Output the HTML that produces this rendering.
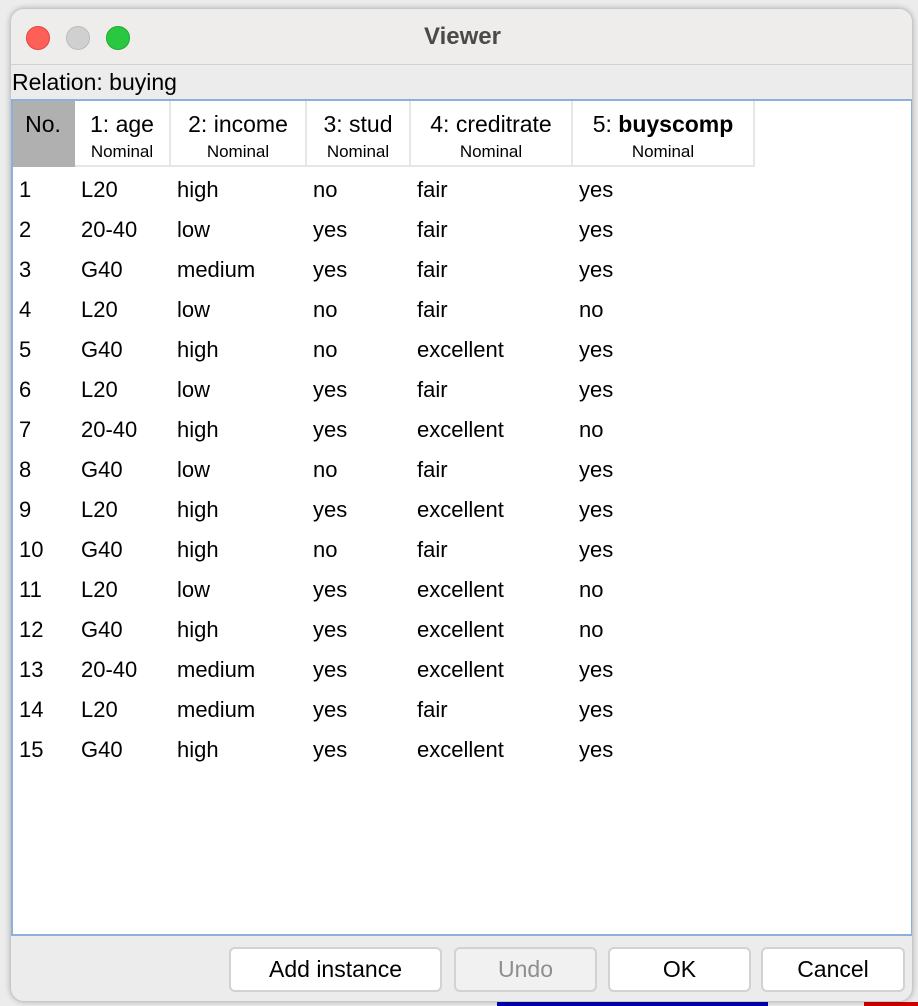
<!DOCTYPE html>
<html><head><style>
*{margin:0;padding:0;box-sizing:border-box}
body{width:918px;height:1006px;background:#ececec;position:relative;overflow:hidden;font-family:"Liberation Sans",Arial,sans-serif;color:#000}
.abs{position:absolute}
#win{left:10px;top:8px;width:903px;height:994px;background:#ececec;border-radius:14px;border:1px solid #c8c8c8;overflow:hidden;box-shadow:0 0 6px rgba(0,0,0,.25)}
.dot{position:absolute;top:17px;width:24px;height:24px;border-radius:50%}
#tb{left:0;top:0;width:903px;height:56px;background:#eeedeb;border-bottom:1px solid #d0d0d0}
#tbl{left:0;top:90px;width:902px;height:837px;background:#fff;border:2px solid #8fb0d6}
.h{position:absolute;top:0;height:66px;background:#fff;border-right:2px solid #e6e6e6;border-bottom:2px solid #e6e6e6;text-align:center}
.h .t{font-size:23px;margin-top:10px;white-space:nowrap}
.h .n{font-size:17px;margin-top:4px}
.c{position:absolute;font-size:22px;white-space:nowrap}
.btn{position:absolute;top:938px;height:45px;background:#fff;border:2px solid #d2d2d2;border-radius:6px;font-size:23px;text-align:center;line-height:41px}
</style></head><body>
<div class="abs" style="left:497px;top:1002px;width:271px;height:4px;background:#0000b0"></div>
<div class="abs" style="left:864px;top:1002px;width:54px;height:4px;background:#d00000"></div>
<div id="win" class="abs">
 <div id="tb" class="abs"></div>
 <div class="dot" style="left:15px;background:#fe5f57;border:1px solid #e0443e"></div>
 <div class="dot" style="left:55px;background:#d0d0d0;border:1px solid #bbb"></div>
 <div class="dot" style="left:95px;background:#28c840;border:1px solid #1aab29"></div>
 <div class="abs" style="left:0;width:903px;top:14px;text-align:center;font-weight:bold;font-size:24px;color:#4a4a4a">Viewer</div>
 <div class="abs" style="left:1px;top:60px;font-size:23px">Relation: buying</div>
 <div id="tbl" class="abs">
  <div class="h" style="left:0;width:62px;background:#b0b0b0;border-color:#b0b0b0"><div class="t">No.</div></div>
  <div class="h" style="left:62px;width:96px"><div class="t">1: age</div><div class="n">Nominal</div></div>
  <div class="h" style="left:158px;width:136px"><div class="t">2: income</div><div class="n">Nominal</div></div>
  <div class="h" style="left:294px;width:104px"><div class="t">3: stud</div><div class="n">Nominal</div></div>
  <div class="h" style="left:398px;width:162px"><div class="t">4: creditrate</div><div class="n">Nominal</div></div>
  <div class="h" style="left:560px;width:182px"><div class="t">5: <b>buyscomp</b></div><div class="n">Nominal</div></div>
  <div id="rows"></div>
 </div>
 <div class="btn" style="left:218px;width:213px">Add instance</div>
 <div class="btn" style="left:443px;width:143px;background:#f1f1f1;color:#8e8e8e">Undo</div>
 <div class="btn" style="left:597px;width:143px">OK</div>
 <div class="btn" style="left:750px;width:144px">Cancel</div>
</div>
<script>
var d=[["L20","high","no","fair","yes"],["20-40","low","yes","fair","yes"],["G40","medium","yes","fair","yes"],["L20","low","no","fair","no"],["G40","high","no","excellent","yes"],["L20","low","yes","fair","yes"],["20-40","high","yes","excellent","no"],["G40","low","no","fair","yes"],["L20","high","yes","excellent","yes"],["G40","high","no","fair","yes"],["L20","low","yes","excellent","no"],["G40","high","yes","excellent","no"],["20-40","medium","yes","excellent","yes"],["L20","medium","yes","fair","yes"],["G40","high","yes","excellent","yes"]];
var xs=[6,68,164,300,404,566],h="";
d.forEach(function(r,i){var y=76+i*40;var v=[String(i+1)].concat(r);v.forEach(function(t,j){h+='<div class="c" style="left:'+xs[j]+'px;top:'+y+'px">'+t+'</div>';});});
document.getElementById("rows").innerHTML=h;
</script>
</body></html>
